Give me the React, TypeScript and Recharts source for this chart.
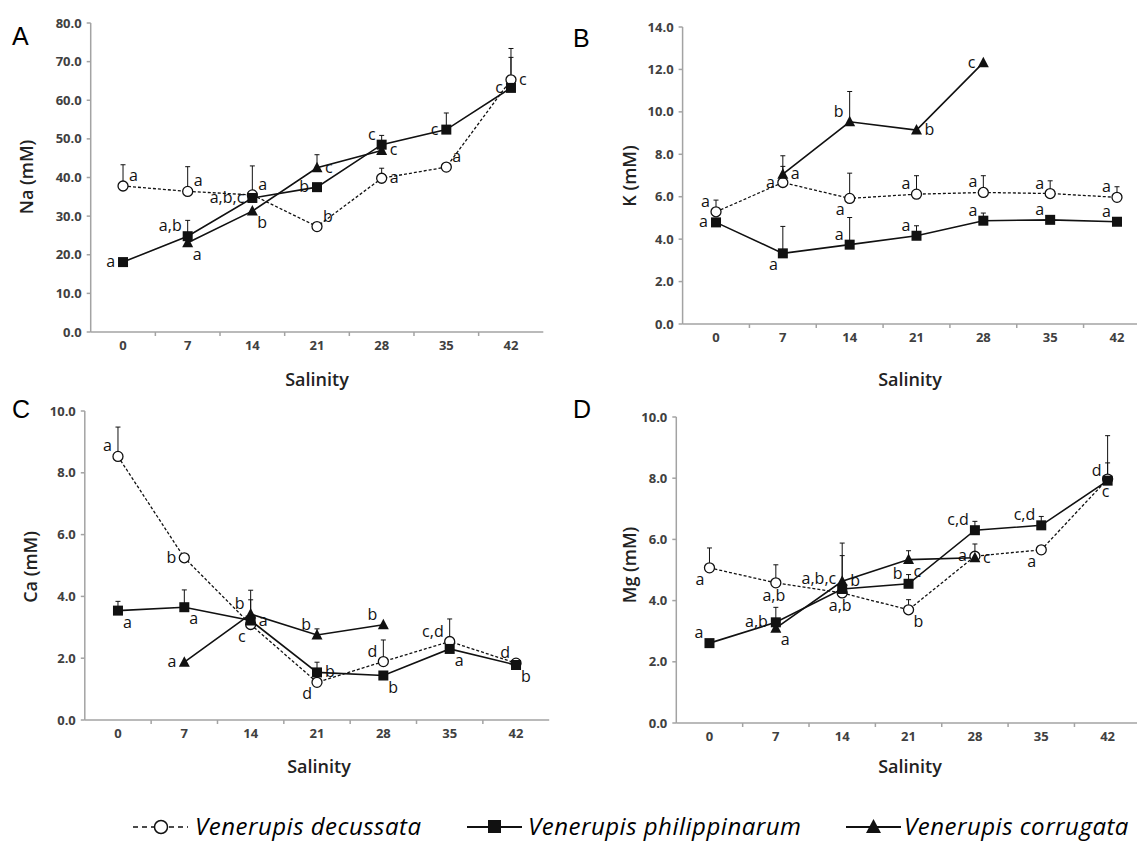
import React from 'react';
import { LineChart, Line, XAxis, YAxis, ErrorBar, LabelList } from 'recharts';

const FONT = '"Open Sans", "DejaVu Sans", sans-serif';
const AXIS = '#a3a3a3';
const TICK = '#404040';
const INK = '#111';

// Salinity levels (x categories) and the boundaries between them
const salinity = [0, 7, 14, 21, 28, 35, 42];
const bandEdges = [3.5, 10.5, 17.5, 24.5, 31.5, 38.5];

// ---- A: Na (mM) ----
const naTicks = [0, 10, 20, 30, 40, 50, 60, 70, 80];
const naDecussata = [37.8, 36.4, 35.5, 27.3, 39.8, 42.7, 65.3];
const naDecussataErr = [5.5, 6.4, 7.5, null, 2.6, null, 8.1];
const naDecussataSig = ['a', 'a', 'a', 'b', 'a', 'a', 'c'];
const naPhilippinarum = [18.1, 24.8, 34.7, 37.5, 48.5, 52.4, 63.2];
const naPhilippinarumErr = [null, 4.1, null, null, 2.4, 4.3, 7.9];
const naPhilippinarumSig = ['a', 'a,b', 'a,b,c', 'b', 'c', 'c', 'c'];
const naCorrugata = [null, 23.1, 31.3, 42.5, 47.0, null, null];
const naCorrugataErr = [null, null, null, 3.4, null, null, null];
const naCorrugataSig = [null, 'a', 'b', 'c', 'c', null, null];

// ---- B: K (mM) ----
const kTicks = [0, 2, 4, 6, 8, 10, 12, 14];
const kDecussata = [5.29, 6.67, 5.92, 6.12, 6.2, 6.15, 5.97];
const kDecussataErr = [0.55, 0.76, 1.19, 0.87, 0.79, 0.6, 0.5];
const kDecussataSig = ['a', 'a', 'a', 'a', 'a', 'a', 'a'];
const kPhilippinarum = [4.79, 3.33, 3.74, 4.16, 4.87, 4.91, 4.82];
const kPhilippinarumErr = [null, 1.27, 1.28, 0.47, 0.36, null, null];
const kPhilippinarumSig = ['a', 'a', 'a', 'a', 'a', 'a', 'a'];
const kCorrugata = [null, 7.06, 9.53, 9.14, 12.32, null, null];
const kCorrugataErr = [null, 0.87, 1.43, null, null, null, null];
const kCorrugataSig = [null, 'a', 'b', 'b', 'c', null, null];

// ---- C: Ca (mM) ----
const caTicks = [0, 2, 4, 6, 8, 10];
const caDecussata = [8.53, 5.25, 3.09, 1.22, 1.89, 2.54, 1.84];
const caDecussataErr = [0.95, 0.1, 0.8, null, 0.7, 0.73, null];
const caDecussataSig = ['a', 'b', 'c', 'd', 'd', 'c,d', 'd'];
const caPhilippinarum = [3.54, 3.65, 3.22, 1.54, 1.44, 2.3, 1.78];
const caPhilippinarumErr = [0.3, 0.56, null, 0.33, null, null, null];
const caPhilippinarumSig = ['a', 'a', 'a', 'b', 'b', 'a', 'b'];
const caCorrugata = [null, 1.87, 3.43, 2.75, 3.08, null, null];
const caCorrugataErr = [null, null, 0.77, 0.2, null, null, null];
const caCorrugataSig = [null, 'a', 'b', 'b', 'b', null, null];

// ---- D: Mg (mM) ----
const mgTicks = [0, 2, 4, 6, 8, 10];
const mgDecussata = [5.07, 4.58, 4.25, 3.7, 5.45, 5.66, 7.97];
const mgDecussataErr = [0.65, 0.59, null, 0.33, 0.4, null, 1.42];
const mgDecussataSig = ['a', 'a,b', 'a,b', 'b', 'a', 'a', 'c'];
const mgPhilippinarum = [2.61, 3.29, 4.38, 4.55, 6.3, 6.46, 7.92];
const mgPhilippinarumErr = [null, 0.49, 1.09, 0.3, 0.29, 0.29, 0.58];
const mgPhilippinarumSig = ['a', 'a,b', 'a,b,c', 'b', 'c,d', 'c,d', 'd'];
const mgCorrugata = [null, 3.1, 4.63, 5.34, 5.4, null, null];
const mgCorrugataErr = [null, null, 1.25, 0.29, null, null, null];
const mgCorrugataSig = [null, 'a', 'b', 'c', 'c', null, null];

// Where each significance letter sits relative to its marker
type Pos = 'l' | 'r' | 'tl' | 'tr' | 'bl' | 'br' | 't' | 'b';
const naPos = {
  dec: ['tr', 'tr', 'tr', 'tr', 'r', 'tr', 'r'] as Pos[],
  phi: ['l', 'tl', 'l', 'l', 'tl', 'l', 'l'] as Pos[],
  cor: ['r', 'br', 'br', 'r', 'r', 'r', 'r'] as Pos[],
};
const kPos = {
  dec: ['tl', 'l', 'bl', 'tl', 'tl', 'tl', 'tl'] as Pos[],
  phi: ['l', 'bl', 'tl', 'tl', 'tl', 'tl', 'tl'] as Pos[],
  cor: ['r', 'r', 'tl', 'r', 'l', 'r', 'r'] as Pos[],
};
const caPos = {
  dec: ['tl', 'l', 'bl', 'bl', 'tl', 'tl', 'tl'] as Pos[],
  phi: ['br', 'br', 'r', 'r', 'br', 'br', 'br'] as Pos[],
  cor: ['l', 'l', 'tl', 'tl', 'tl', 'l', 'l'] as Pos[],
};
const mgPos = {
  dec: ['bl', 'b', 'b', 'br', 'l', 'bl', 'b'] as Pos[],
  phi: ['tl', 'l', 'tl', 'tl', 'tl', 'tl', 'tl'] as Pos[],
  cor: ['r', 'br', 'r', 'br', 'r', 'r', 'r'] as Pos[],
};

const OFFSETS: Record<Pos, [number, number, 'start' | 'end' | 'middle']> = {
  l: [-8, 5, 'end'],
  r: [8, 5, 'start'],
  tl: [-6, -5, 'end'],
  tr: [6, -5, 'start'],
  bl: [-5, 17, 'end'],
  br: [5, 17, 'start'],
  t: [0, -9, 'middle'],
  b: [-2, 18, 'middle'],
};

type SeriesDef = {
  key: 'dec' | 'phi' | 'cor';
  values: (number | null)[];
  err: (number | null)[];
  sig: (string | null)[];
  pos: Pos[];
};

function buildRows(series: SeriesDef[]) {
  return salinity.map((s, i) => {
    const row: Record<string, any> = { salinity: s };
    series.forEach((sr) => {
      row[sr.key] = sr.values[i];
      row[sr.key + 'Err'] = sr.err[i] == null || sr.values[i] == null ? undefined : [0, sr.err[i]];
      row[sr.key + 'Sig'] = sr.sig[i] && sr.values[i] != null ? `${sr.pos[i]}|${sr.sig[i]}` : null;
    });
    return row;
  });
}

const openCircle = (p: any) => {
  const k = p.key ?? `c${p.index}`;
  if (p.cx == null || p.cy == null || p.value == null) return <g key={k} />;
  return <circle key={k} cx={p.cx} cy={p.cy} r={5} fill="#fff" stroke={INK} strokeWidth={1.3} />;
};
const filledSquare = (p: any) => {
  const k = p.key ?? `s${p.index}`;
  if (p.cx == null || p.cy == null || p.value == null) return <g key={k} />;
  return <rect key={k} x={p.cx - 5} y={p.cy - 5} width={10} height={10} fill={INK} />;
};
const filledTriangle = (p: any) => {
  const k = p.key ?? `t${p.index}`;
  if (p.cx == null || p.cy == null || p.value == null) return <g key={k} />;
  const { cx, cy } = p;
  return <polygon key={k} points={`${cx},${cy - 6} ${cx + 5.5},${cy + 4.5} ${cx - 5.5},${cy + 4.5}`} fill={INK} />;
};

const sigLabel = (p: any) => {
  if (!p.value) return null;
  const x = p.viewBox?.x ?? p.x;
  const y = p.viewBox?.y ?? p.y;
  if (x == null || y == null) return null;
  const [code, text] = String(p.value).split('|');
  const [dx, dy, anchor] = OFFSETS[code as Pos] ?? OFFSETS.r;
  return (
    <text x={x + dx} y={y + dy} textAnchor={anchor} fontSize={16} fontFamily={FONT} fill={INK}>
      {text}
    </text>
  );
};

const SalinityTick = (p: any) => {
  const v = p.payload?.value;
  if (bandEdges.includes(v)) {
    return <line x1={p.x} x2={p.x} y1={p.y} y2={p.y + 4} stroke={AXIS} strokeWidth={1.5} />;
  }
  return (
    <text x={p.x} y={p.y + 18} textAnchor="middle" fontSize={13} fontWeight={700} fill={TICK} fontFamily={FONT}>
      {v}
    </text>
  );
};

const xTicks = [...salinity, ...bandEdges].sort((a, b) => a - b);

type PanelProps = {
  left: number;
  top: number;
  width: number;
  height: number;
  margin: { top: number; right: number; bottom: number; left: number };
  yMax: number;
  yTicks: number[];
  series: SeriesDef[];
};

function Panel({ left, top, width, height, margin, yMax, yTicks, series }: PanelProps) {
  const rows = buildRows(series);
  const styleOf = (key: SeriesDef['key']) =>
    key === 'dec'
      ? { dash: '3 2', width: 1.3, dot: openCircle }
      : key === 'phi'
      ? { dash: undefined, width: 1.6, dot: filledSquare }
      : { dash: undefined, width: 1.6, dot: filledTriangle };
  const drawOrder: SeriesDef['key'][] = ['dec', 'cor', 'phi'];
  return (
    <div style={{ position: 'absolute', left, top, width, height }}>
      <LineChart width={width} height={height} data={rows} margin={margin}>
        <XAxis
          dataKey="salinity"
          type="number"
          domain={[-3.5, 45.5]}
          allowDataOverflow
          ticks={xTicks}
          interval={0}
          tick={SalinityTick}
          tickLine={false}
          tickSize={0}
          tickMargin={0}
          height={30}
          axisLine={{ stroke: AXIS, strokeWidth: 1.5 }}
        />
        <YAxis
          type="number"
          domain={[0, yMax]}
          allowDataOverflow
          ticks={yTicks}
          interval={0}
          width={60}
          tickSize={4}
          tickMargin={5}
          tickFormatter={(v: number) => v.toFixed(1)}
          tick={{ fontSize: 13, fontWeight: 700, fill: TICK, fontFamily: FONT }}
          tickLine={{ stroke: AXIS, strokeWidth: 1.5 }}
          axisLine={{ stroke: AXIS, strokeWidth: 1.5 }}
        />
        {drawOrder
          .map((k) => series.find((s) => s.key === k))
          .filter(Boolean)
          .map((s) => {
            const st = styleOf(s!.key);
            return (
              <Line
                key={s!.key}
                dataKey={s!.key}
                type="linear"
                stroke={INK}
                strokeWidth={st.width}
                strokeDasharray={st.dash}
                dot={st.dot}
                activeDot={false}
                isAnimationActive={false}
              >
                <ErrorBar
                  dataKey={(row: any) => row[s!.key + 'Err']}
                  direction="y"
                  width={2.5}
                  stroke={INK}
                  strokeWidth={1}
                  isAnimationActive={false}
                />
                <LabelList dataKey={(row: any) => row[s!.key + 'Sig']} content={sigLabel} />
              </Line>
            );
          })}
      </LineChart>
    </div>
  );
}

const mk = (
  dec: any[], decErr: any[], decSig: any[],
  phi: any[], phiErr: any[], phiSig: any[],
  cor: any[], corErr: any[], corSig: any[],
  pos: { dec: Pos[]; phi: Pos[]; cor: Pos[] }
): SeriesDef[] => [
  { key: 'dec', values: dec, err: decErr, sig: decSig, pos: pos.dec },
  { key: 'phi', values: phi, err: phiErr, sig: phiSig, pos: pos.phi },
  { key: 'cor', values: cor, err: corErr, sig: corSig, pos: pos.cor },
];

const naSeries = mk(naDecussata, naDecussataErr, naDecussataSig, naPhilippinarum, naPhilippinarumErr, naPhilippinarumSig, naCorrugata, naCorrugataErr, naCorrugataSig, naPos);
const kSeries = mk(kDecussata, kDecussataErr, kDecussataSig, kPhilippinarum, kPhilippinarumErr, kPhilippinarumSig, kCorrugata, kCorrugataErr, kCorrugataSig, kPos);
const caSeries = mk(caDecussata, caDecussataErr, caDecussataSig, caPhilippinarum, caPhilippinarumErr, caPhilippinarumSig, caCorrugata, caCorrugataErr, caCorrugataSig, caPos);
const mgSeries = mk(mgDecussata, mgDecussataErr, mgDecussataSig, mgPhilippinarum, mgPhilippinarumErr, mgPhilippinarumSig, mgCorrugata, mgCorrugataErr, mgCorrugataSig, mgPos);

const titleStyle = { fontFamily: FONT, fontSize: 18, fontWeight: 600, fill: '#222' } as const;
const letterStyle = { fontFamily: '"Liberation Sans", Arial, sans-serif', fontSize: 25, fill: '#000' } as const;
const legendText = { fontFamily: FONT, fontSize: 24, fontStyle: 'italic', letterSpacing: 0.5, fill: '#000' } as const;

export default function App() {
  return (
    <div
      style={{
        position: 'absolute',
        left: 0,
        top: 0,
        width: 1137,
        height: 843,
        background: '#fff',
        overflow: 'hidden',
      }}
    >
      <Panel left={0} top={0} width={560} height={395}
        margin={{ top: 23, right: 16.7, bottom: 33, left: 30.7 }}
        yMax={80} yTicks={naTicks} series={naSeries} />
      <Panel left={560} top={0} width={600} height={395}
        margin={{ top: 27, right: 9.6, bottom: 41, left: 62.6 }}
        yMax={14} yTicks={kTicks} series={kSeries} />
      <Panel left={0} top={390} width={560} height={400}
        margin={{ top: 21, right: 10.8, bottom: 40, left: 24.8 }}
        yMax={10} yTicks={caTicks} series={caSeries} />
      <Panel left={560} top={390} width={600} height={400}
        margin={{ top: 27, right: 19.2, bottom: 37, left: 56.3 }}
        yMax={10} yTicks={mgTicks} series={mgSeries} />

      <svg width={1137} height={843} style={{ position: 'absolute', left: 0, top: 0, pointerEvents: 'none' }}>
        {/* panel letters */}
        <text x={12} y={45} {...letterStyle}>A</text>
        <text x={573} y={47} {...letterStyle}>B</text>
        <text x={12} y={418} {...letterStyle}>C</text>
        <text x={573} y={418} {...letterStyle}>D</text>

        {/* axis titles */}
        <text transform="translate(27,177) rotate(-90)" textAnchor="middle" dy="0.35em" {...titleStyle}>Na (mM)</text>
        <text transform="translate(630,176) rotate(-90)" textAnchor="middle" dy="0.35em" {...titleStyle}>K (mM)</text>
        <text transform="translate(31,567) rotate(-90)" textAnchor="middle" dy="0.35em" {...titleStyle}>Ca (mM)</text>
        <text transform="translate(630,565) rotate(-90)" textAnchor="middle" dy="0.35em" {...titleStyle}>Mg (mM)</text>
        <text x={317} y={380} textAnchor="middle" dy="0.35em" {...titleStyle}>Salinity</text>
        <text x={910} y={380} textAnchor="middle" dy="0.35em" {...titleStyle}>Salinity</text>
        <text x={319} y={767} textAnchor="middle" dy="0.35em" {...titleStyle}>Salinity</text>
        <text x={910} y={767} textAnchor="middle" dy="0.35em" {...titleStyle}>Salinity</text>

        {/* legend */}
        <line x1={133} x2={188} y1={827} y2={827} stroke={INK} strokeWidth={1.6} strokeDasharray="5 4" />
        <circle cx={161} cy={827} r={6.5} fill="#fff" stroke={INK} strokeWidth={1.5} />
        <text x={195} y={835} {...legendText}>Venerupis decussata</text>

        <line x1={467} x2={522} y1={827} y2={827} stroke={INK} strokeWidth={2.2} />
        <rect x={488} y={820} width={13} height={13} fill={INK} />
        <text x={528} y={835} {...legendText}>Venerupis philippinarum</text>

        <line x1={846} x2={901} y1={827} y2={827} stroke={INK} strokeWidth={2.2} />
        <polygon points="873.5,819 881,833 866,833" fill={INK} />
        <text x={904} y={835} {...legendText}>Venerupis corrugata</text>
      </svg>
    </div>
  );
}
